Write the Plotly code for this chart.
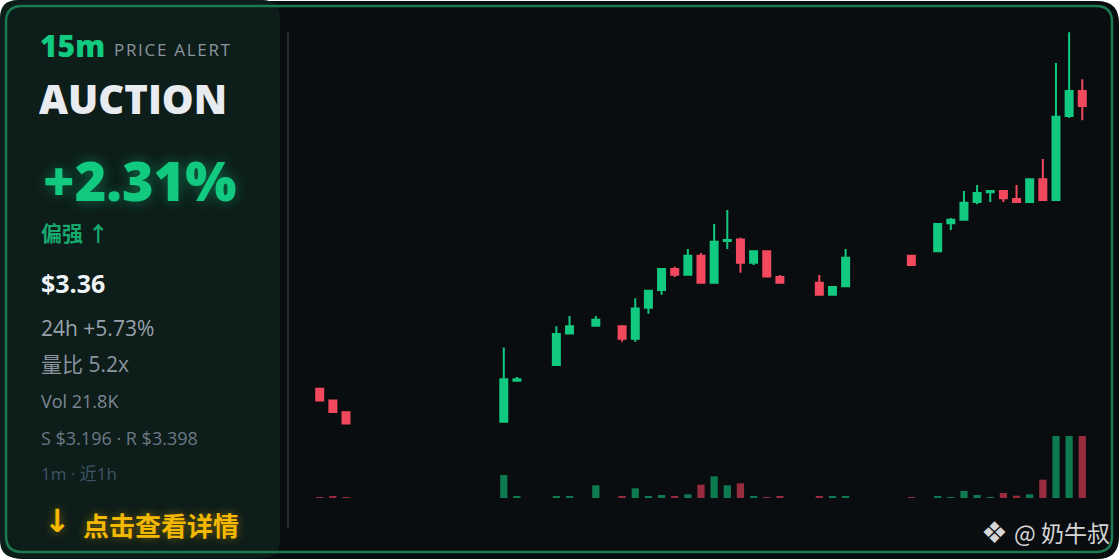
import plotly.graph_objects as go

# minutos (1m, ultima hora) y velas OHLC
minutos = [0, 1, 2, 14, 15, 18, 19, 21, 23, 24, 25, 26, 27, 28, 29, 30, 31, 32, 33,
           34, 35, 38, 39, 40, 45, 47, 48, 49, 50, 51, 52, 53, 54, 55, 56, 57, 58]
apertura = [3.2842, 3.2811, 3.2779, 3.2754, 3.2864, 3.2906, 3.2990, 3.3011, 3.3010, 3.2976,
            3.3059, 3.3107, 3.3163, 3.3148, 3.3199, 3.3126, 3.3238, 3.3242, 3.3180, 3.3211,
            3.3142, 3.3126, 3.3094, 3.3117, 3.3199, 3.3211, 3.3286, 3.3295, 3.3343, 3.3369,
            3.3372, 3.3351, 3.3343, 3.3404, 3.3348, 3.3573, 3.3640]
maximo = [3.2842, 3.2811, 3.2779, 3.2953, 3.2874, 3.3010, 3.3037, 3.3037, 3.3010, 3.3085,
          3.3105, 3.3163, 3.3169, 3.3217, 3.3206, 3.3284, 3.3321, 3.3247, 3.3211, 3.3211,
          3.3147, 3.3147, 3.3115, 3.3217, 3.3199, 3.3284, 3.3300, 3.3372, 3.3388, 3.3372,
          3.3372, 3.3388, 3.3404, 3.3458, 3.3715, 3.3798, 3.3672]
minimo = [3.2811, 3.2780, 3.2749, 3.2754, 3.2864, 3.2906, 3.2990, 3.3011, 3.2968, 3.2968,
          3.3043, 3.3094, 3.3142, 3.3148, 3.3126, 3.3126, 3.3217, 3.3153, 3.3174, 3.3143,
          3.3126, 3.3094, 3.3094, 3.3117, 3.3174, 3.3211, 3.3268, 3.3295, 3.3337, 3.3343,
          3.3343, 3.3343, 3.3343, 3.3348, 3.3348, 3.3568, 3.3562]
cierre = [3.2811, 3.2780, 3.2749, 3.2868, 3.2868, 3.2989, 3.3010, 3.3027, 3.2976, 3.3057,
          3.3105, 3.3163, 3.3148, 3.3199, 3.3126, 3.3236, 3.3241, 3.3180, 3.3211, 3.3143,
          3.3126, 3.3094, 3.3115, 3.3193, 3.3174, 3.3284, 3.3295, 3.3341, 3.3367, 3.3372,
          3.3353, 3.3343, 3.3404, 3.3348, 3.3571, 3.3640, 3.3600]
volumen = [90, 110, 80, 2300, 120, 200, 130, 1270, 170, 970, 200, 300, 200, 370, 1330, 2170,
           1270, 1470, 170, 70, 170, 170, 170, 170, 100, 130, 100, 700, 300, 100, 500, 230,
           370, 1830, 16400, 12900, 21800]

VERDE = '#12c980'
ROJO = '#f2495f'
VOL_VERDE = '#0e7a4f'
VOL_ROJO = '#982c3e'

# tamaño de la pagina y margenes del grafico
W, H = 1120, 560
ML, MR, MT, MB = 300, 18, 20, 62


def fx(px):
    return (px - ML) / (W - ML - MR)


def fy(py):
    return (H - MB - py) / (H - MT - MB)


def rect_redondo(x0, y0, x1, y1, r):
    pts = [('M', x0 + r, y0), ('L', x1 - r, y0), ('Q', x1, y0, x1, y0 + r),
           ('L', x1, y1 - r), ('Q', x1, y1, x1 - r, y1), ('L', x0 + r, y1),
           ('Q', x0, y1, x0, y1 - r), ('L', x0, y0 + r), ('Q', x0, y0, x0 + r, y0)]
    partes = []
    for p in pts:
        c = p[1:]
        coords = ' '.join(f'{fx(c[i]):.5f},{fy(c[i + 1]):.5f}' for i in range(0, len(c), 2))
        partes.append(p[0] + ' ' + coords)
    return ' '.join(partes) + ' Z'


colores_vol = [VOL_VERDE if c >= o else VOL_ROJO for o, c in zip(apertura, cierre)]

fig = go.Figure()
fig.add_trace(go.Bar(x=minutos, y=volumen, marker=dict(color=colores_vol, line_width=0),
                     width=0.55, yaxis='y2', hoverinfo='skip'))
fig.add_trace(go.Candlestick(
    x=minutos, open=apertura, high=maximo, low=minimo, close=cierre,
    increasing=dict(fillcolor=VERDE, line=dict(color=VERDE, width=2)),
    decreasing=dict(fillcolor=ROJO, line=dict(color=ROJO, width=2)),
    whiskerwidth=0, hoverinfo='skip'))

# fondo de la tarjeta, panel izquierdo, borde y separador
P = dict(xref='paper', yref='paper', layer='below')
formas = [
    dict(type='path', path=rect_redondo(1, 1, 1119, 559, 22), fillcolor='#0a0d10',
         line=dict(width=0), **P),
    dict(type='path', path=rect_redondo(0, 0, 280, 558, 18), fillcolor='#0d1d19',
         line=dict(width=0), **P),
    dict(type='path', path=rect_redondo(6, 6, 1112, 552, 16), fillcolor='rgba(0,0,0,0)',
         line=dict(color='#1a7a50', width=2.5), **P),
    dict(type='line', x0=fx(288), x1=fx(288), y0=fy(32), y1=fy(528),
         line=dict(color='#262b30', width=2), **P),
]

LAT = 'Open Sans, Noto Sans CJK SC, sans-serif'
CJK = 'Noto Sans CJK SC, sans-serif'
HS = '\u200a'


def texto(t, x, y, size, color, family=LAT, weight='normal', shadow='none', anchor='left'):
    return dict(text=t, x=fx(x), y=fy(y), xref='paper', yref='paper', showarrow=False,
                xanchor=anchor, yanchor='middle',
                font=dict(size=size, color=color, family=family, weight=weight, shadow=shadow))


anotaciones = [
    texto('15m', 38, 46, 30, VERDE, weight=800),
    texto(HS.join('PRICE ALERT'), 112, 49, 17, '#8b949e'),
    texto('AUCTION', 37, 98, 40, '#e8ecf0', weight=800),
    texto('+2.31%', 41, 180, 54, VERDE, weight=800, shadow='0 0 14px rgba(18,201,128,0.45)'),
    texto('偏强 ↑', 39, 232, 21, '#17a86e', family=CJK, weight='bold'),
    texto('$3.36', 39, 283, 25, '#f0f3f6', weight='bold'),
    texto('24h +5.73%', 39, 328, 21, '#98a2ad'),
    texto('量比 5.2x', 39, 364, 21, '#8a949f'),
    texto('Vol 21.8K', 39, 401, 18, '#7c8894'),
    texto('S $3.196 · R $3.398', 39, 438, 18, '#6b7886'),
    texto('1m · 近1h', 39, 473, 17, '#3c5566'),
    texto('↓', 42, 521, 32, '#f5b800', family='DejaVu Sans', weight='bold',
          shadow='0 0 10px rgba(245,184,0,0.45)'),
    texto('点击查看详情', 81, 524, 26, '#f5b800', family=CJK, weight='bold',
          shadow='0 0 10px rgba(245,184,0,0.45)'),
    texto('❖', 979, 532, 30, '#d6d6d6', family='DejaVu Sans'),
    texto('@ 奶牛叔', 1012, 532, 23, '#d6d6d6', family=CJK),
]

fig.update_layout(
    width=W, height=H, autosize=False,
    margin=dict(l=ML, r=MR, t=MT, b=MB, pad=0),
    paper_bgcolor='white', plot_bgcolor='rgba(0,0,0,0)',
    showlegend=False, boxgap=0.24,
    xaxis=dict(range=[-1.5, 59.5], visible=False, rangeslider=dict(visible=False), fixedrange=True),
    yaxis=dict(range=[3.254944, 3.383052], visible=False, domain=[0, 1]),
    yaxis2=dict(range=[0, 6200], visible=False, domain=[0, 62 / 478], anchor='x'),
    shapes=formas, annotations=anotaciones,
)

fig.write_html("out.html", config={'displayModeBar': False},
               post_script="document.body.style.margin='0';")
